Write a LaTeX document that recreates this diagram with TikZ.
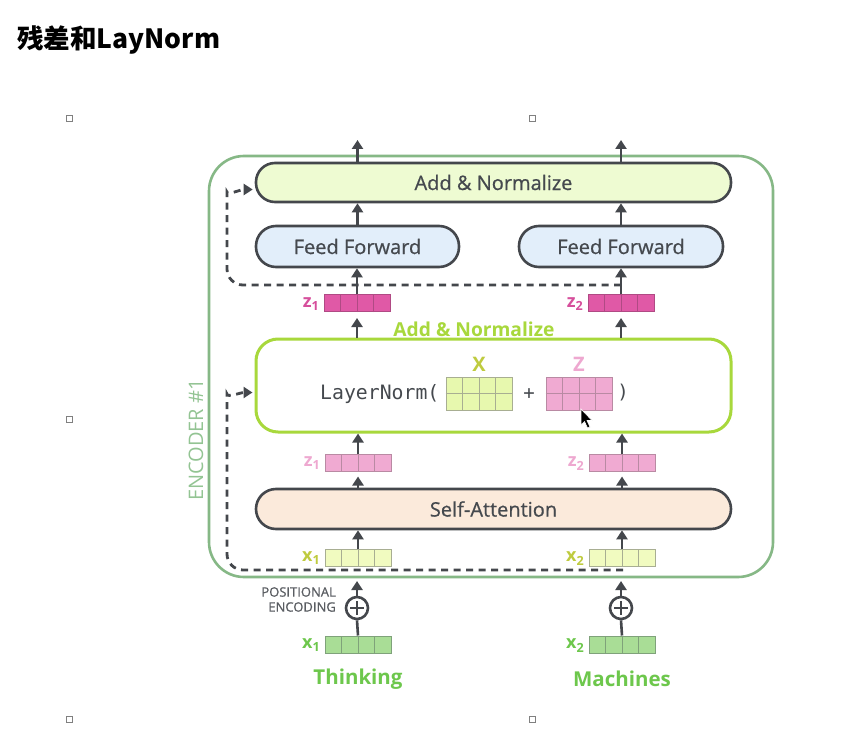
\documentclass[tikz,border=0pt]{standalone}
\usepackage{fontspec}
\setmainfont{Open Sans}
\setmonofont{DejaVu Sans Mono}
\newfontfamily\osmed{Open Sans}[FakeBold=0.7]
\newfontfamily\cjk{Noto Sans CJK SC}
\usetikzlibrary{arrows.meta,calc}
\definecolor{dk}{HTML}{44474C}
\definecolor{txt}{HTML}{45494E}
\definecolor{encg}{HTML}{86B886}
\definecolor{encl}{HTML}{93C493}
\definecolor{anfill}{HTML}{EEFBD2}
\definecolor{fffill}{HTML}{E2EEFA}
\definecolor{safill}{HTML}{FBEADB}
\definecolor{lime}{HTML}{A8D83C}
\definecolor{zdfill}{HTML}{E059A6}
\definecolor{zddraw}{HTML}{B04A84}
\definecolor{zdlab}{HTML}{D64F9C}
\definecolor{zlfill}{HTML}{F0AAD2}
\definecolor{zldraw}{HTML}{B98AA3}
\definecolor{zllab}{HTML}{EEA8D0}
\definecolor{xlfill}{HTML}{F1FBC0}
\definecolor{xldraw}{HTML}{A8AE92}
\definecolor{xllab}{HTML}{BFCB3F}
\definecolor{xmfill}{HTML}{E7F8AE}
\definecolor{xgfill}{HTML}{A9DD96}
\definecolor{xgdraw}{HTML}{7FA27A}
\definecolor{xglab}{HTML}{6DC74C}
\definecolor{pgray}{HTML}{5A5D62}
\begin{document}
\begin{tikzpicture}[x=1pt,y=-1pt,
  box/.style={draw=dk, line width=2.6pt, rounded corners=19pt, inner sep=0pt,
    font=\osmed\fontsize{20}{22}\selectfont, text=txt},
  vecbox/.style={rectangle, inner sep=0pt, minimum width=66pt, minimum height=17pt, line width=1pt},
  matbox/.style={rectangle, inner sep=0pt, minimum width=66pt, minimum height=33pt, line width=1pt},
  veclab/.style={font=\bfseries\fontsize{18}{18}\selectfont, inner sep=0pt, anchor=east},
  arr/.style={draw=dk, line width=2.6pt, -{Triangle[width=11pt,length=9pt]}},
  dsh/.style={draw=dk, line width=2.8pt, dash pattern=on 7pt off 5.5pt, -{Triangle[width=11pt,length=9pt]}},
  plusc/.style={circle, draw=dk, line width=2.6pt, minimum size=22pt, inner sep=0pt},
  handle/.style={draw=gray, line width=0.9pt, minimum size=6pt, inner sep=0pt}
]
\useasboundingbox[fill=white] (0,0) rectangle (861,730);

% title
\node[anchor=west, inner sep=0pt, font=\cjk\bfseries\fontsize{26.5}{28}\selectfont] (title) at (17,40) {残差和LayNorm};

% selection handles
\foreach \hx/\hy [count=\i] in {69/118,532/118,69/419,532/419,69/719,532/719}
  \node[handle] (h\i) at (\hx,\hy) {};

% encoder frame
\node[draw=encg, line width=2.6pt, rounded corners=35pt, minimum width=564pt, minimum height=421pt, inner sep=0pt] (enc) at (491,366.5) {};
\node[rotate=90, text=encl, font=\fontsize{20}{22}\selectfont, inner sep=0pt] (enclab) at (196,440) {ENCODER \#1};

% main boxes
\node[box, fill=anfill, minimum width=475pt, minimum height=39pt] (an) at (493.5,182.5) {Add \& Normalize};
\node[box, fill=fffill, minimum width=203pt, minimum height=41pt, rounded corners=20pt] (ff1) at (357.5,246.5) {Feed Forward};
\node[box, fill=fffill, minimum width=204pt, minimum height=41pt, rounded corners=20pt] (ff2) at (621,246.5) {Feed Forward};
\node[draw=lime, line width=3pt, fill=white, rounded corners=22pt, minimum width=475pt, minimum height=93pt, inner sep=0pt] (ln) at (493.5,385.5) {};
\node[box, fill=safill, minimum width=475pt, minimum height=40pt, rounded corners=20pt] (sa) at (493.5,509) {Self-Attention};

\node[text=lime, font=\bfseries\fontsize{19.2}{20}\selectfont, inner sep=0pt] (anlab) at (474,329) {Add \& Normalize};

% vectors
\newcommand{\cellsplit}[3]{% node, count, color
  \foreach \f in {0.25,0.5,0.75}
    \draw[#3, line width=1pt] ($(#1.south west)!\f!(#1.south east)$) -- ($(#1.north west)!\f!(#1.north east)$);}
\node[vecbox, fill=zdfill, draw=zddraw] (zd1) at (357,303) {};
\node[vecbox, fill=zdfill, draw=zddraw] (zd2) at (621,303) {};
\node[vecbox, fill=zlfill, draw=zldraw] (zl1) at (358,462.5) {};
\node[vecbox, fill=zlfill, draw=zldraw] (zl2) at (622,462.5) {};
\node[vecbox, fill=xlfill, draw=xldraw] (xl1) at (358,557.5) {};
\node[vecbox, fill=xlfill, draw=xldraw] (xl2) at (622,557.5) {};
\node[vecbox, fill=xgfill, draw=xgdraw] (xg1) at (358,644.5) {};
\node[vecbox, fill=xgfill, draw=xgdraw] (xg2) at (622,644.5) {};
\cellsplit{zd1}{4}{zddraw}\cellsplit{zd2}{4}{zddraw}
\cellsplit{zl1}{4}{zldraw}\cellsplit{zl2}{4}{zldraw}
\cellsplit{xl1}{4}{xldraw}\cellsplit{xl2}{4}{xldraw}
\cellsplit{xg1}{4}{xgdraw}\cellsplit{xg2}{4}{xgdraw}

\node[veclab, text=zdlab] (zd1l) at ($(zd1.west)+(-4,1)$) {z\textsubscript{1}};
\node[veclab, text=zdlab] (zd2l) at ($(zd2.west)+(-4,1)$) {z\textsubscript{2}};
\node[veclab, text=zllab] (zl1l) at ($(zl1.west)+(-4,1)$) {z\textsubscript{1}};
\node[veclab, text=zllab] (zl2l) at ($(zl2.west)+(-4,1)$) {z\textsubscript{2}};
\node[veclab, text=xllab] (xl1l) at ($(xl1.west)+(-4,1)$) {x\textsubscript{1}};
\node[veclab, text=xllab] (xl2l) at ($(xl2.west)+(-4,1)$) {x\textsubscript{2}};
\node[veclab, text=xglab] (xg1l) at ($(xg1.west)+(-4,1)$) {x\textsubscript{1}};
\node[veclab, text=xglab] (xg2l) at ($(xg2.west)+(-4,1)$) {x\textsubscript{2}};

% LayerNorm content
\node[font=\ttfamily\fontsize{19.8}{20}\selectfont, text=txt, inner sep=0pt, anchor=west] (lnt) at (320,394) {LayerNorm(};
\node[matbox, fill=xmfill, draw=xldraw] (mx) at (479,393.5) {};
\node[matbox, fill=zlfill, draw=zldraw] (mz) at (579,393.5) {};
\cellsplit{mx}{4}{xldraw}\cellsplit{mz}{4}{zldraw}
\draw[xldraw, line width=1pt] (mx.west) -- (mx.east);
\draw[zldraw, line width=1pt] (mz.west) -- (mz.east);
\node[text=xllab, font=\bfseries\fontsize{20}{20}\selectfont, inner sep=0pt] (mxl) at (479,364) {X};
\node[text=zllab, font=\bfseries\fontsize{20}{20}\selectfont, inner sep=0pt] (mzl) at (579,364) {Z};
\node[font=\ttfamily\fontsize{19}{20}\selectfont, text=txt, inner sep=0pt] (plus) at (529,394) {+};
\node[font=\ttfamily\fontsize{19}{20}\selectfont, text=txt, inner sep=0pt] (rpar) at (623,393) {)};

% positional encoding
\node[plusc] (p1) at (357,608) {};
\node[plusc] (p2) at (621,608) {};
\foreach \p in {p1,p2}{
  \draw[dk, line width=2.6pt] ($(\p.center)+(-7,0)$) -- ($(\p.center)+(7,0)$);
  \draw[dk, line width=2.6pt] ($(\p.center)+(0,-7)$) -- ($(\p.center)+(0,7)$);
}
\node[anchor=east, align=right, text=pgray, font=\osmed\fontsize{13}{15}\selectfont, inner sep=0pt] (pe) at (336,599.5) {POSITIONAL\\ENCODING};

\node[text=xglab, font=\bfseries\fontsize{20.5}{20}\selectfont, inner sep=0pt] (w1) at (358,679) {Thinking};
\node[text=xglab, font=\bfseries\fontsize{20.5}{20}\selectfont, inner sep=0pt] (w2) at (622,679) {Machines};

% coordinates
\coordinate (o1) at (356,140);
\coordinate (o2) at (621,140);
\coordinate (i1) at (357,581);
\coordinate (i2) at (621,581);
\coordinate (dT) at (621,285);
\coordinate (dB) at (623,570);

% arrows
\draw[arr] (an.north -| ff1) -- (o1 -| ff1);
\draw[arr] (an.north -| ff2) -- (o2);
\draw[arr] (ff1.north) -- (ff1.north |- an.south);
\draw[arr] (ff2.north) -- (ff2.north |- an.south);
\draw[arr] (zd1.north) -- (zd1.north |- ff1.south);
\draw[arr] (zd2.north) -- (zd2.north |- ff2.south);
\draw[arr] (ln.north -| zd1) -- ($(zd1.south)+(0,6)$);
\draw[arr] (ln.north -| zd2) -- ($(zd2.south)+(0,6)$);
\draw[arr] (zl1.north) -- (zl1.north |- ln.south);
\draw[arr] (zl2.north) -- (zl2.north |- ln.south);
\draw[arr] (sa.north -| zl1) -- ($(zl1.south)+(0,5)$);
\draw[arr] (sa.north -| zl2) -- ($(zl2.south)+(0,5)$);
\draw[arr] (xl1.north) -- (xl1.north |- sa.south);
\draw[arr] (xl2.north) -- (xl2.north |- sa.south);
\draw[arr] (p1.north) -- (i1);
\draw[arr] (p2.north) -- (i2);
\draw[dk, line width=2.6pt] (xg1.north) -- (p1.south);
\draw[dk, line width=2.6pt] (xg2.north) -- (p2.south);

% residual dashed connections
\draw[dsh, rounded corners=16pt] (dT) -- (227,285) -- (227,208) to[out=90,in=180] ($(an.west)+(-2,7)$);
\draw[dsh, rounded corners=16pt] (dB) -- (227,570) -- (227,410) to[out=90,in=180] ($(ln.west)+(-2,7)$);

% mouse cursor
\fill[black, draw=white, line width=0.6pt] (581,409) -- (581,425) -- (584.5,421.5) -- (587.5,428) -- (590,427) -- (587,420.5) -- (592,420.5) -- cycle;
\end{tikzpicture}
\end{document}
